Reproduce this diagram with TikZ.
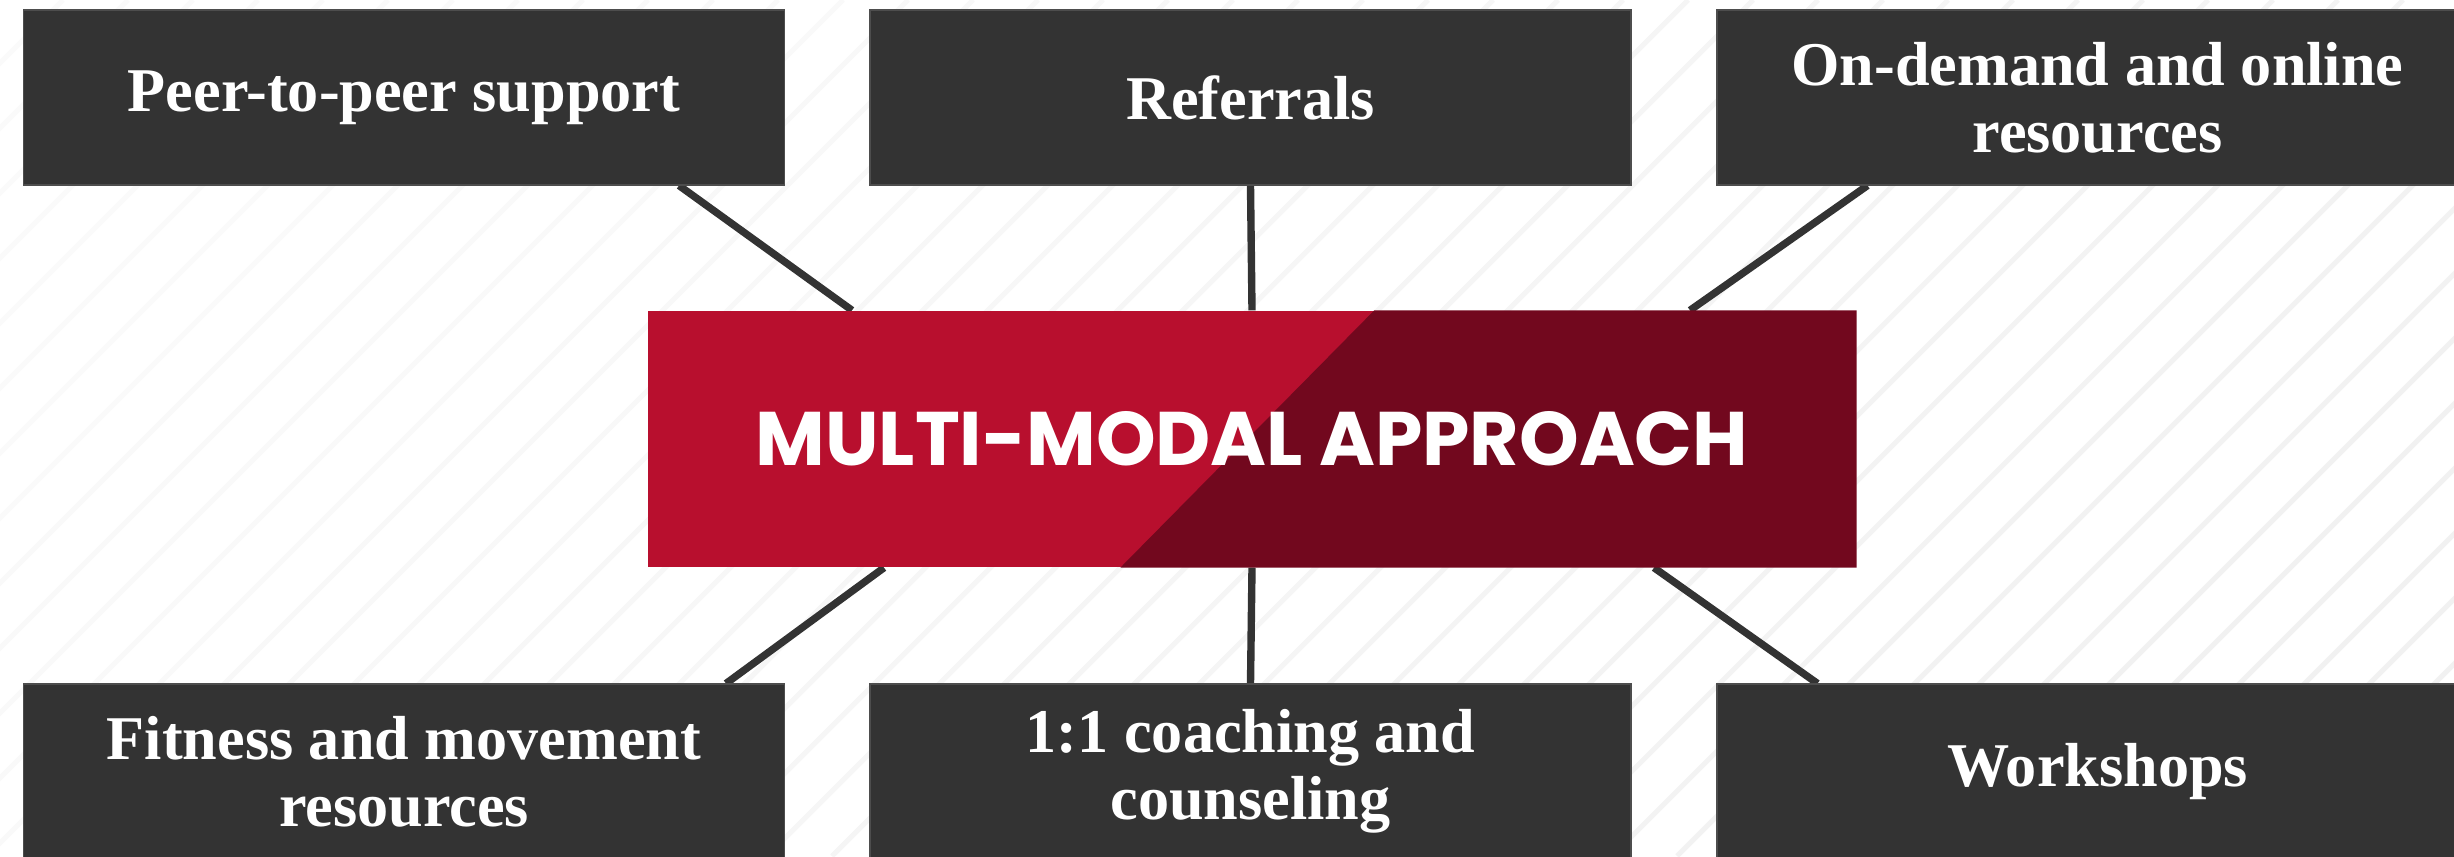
\documentclass[tikz,border=0pt]{standalone}
\usepackage{fontspec}
\setmainfont{Liberation Serif}
\newfontfamily\headfont{Poppins}
\usetikzlibrary{calc,backgrounds}
\definecolor{boxgray}{HTML}{333333}
\definecolor{boxedge}{HTML}{4D4D4D}
\definecolor{linegray}{HTML}{333333}
\definecolor{brightred}{HTML}{B80F2E}
\definecolor{darkred}{HTML}{72081E}
\definecolor{stripeR}{HTML}{F1F1F1}
\definecolor{stripeL}{HTML}{FAFAFA}
\tikzset{
  box/.style={fill=boxgray, draw=boxedge, line width=0.3pt, minimum width=76.1mm,
    minimum height=17.5mm, inner sep=0pt, text=white, align=center,
    font=\bfseries\fontsize{17.7pt}{19pt}\selectfont},
  centerbox/.style={fill=brightred, minimum width=120.8mm, minimum height=25.6mm, inner sep=0pt},
  centertext/.style={text=white, inner sep=0pt, font=\headfont\bfseries\fontsize{21.6pt}{26pt}\selectfont},
  conn/.style={draw=linegray, line width=2.1pt},
  stripe/.style={line width=1.4pt}
}
\begin{document}
\begin{tikzpicture}[x=0.1mm,y=-0.1mm]
\useasboundingbox (0,0) rectangle (2454,856);
\clip (0,0) rectangle (2454,856);
% boxes
\node[box] (tl) at (404,97.5) {Peer-to-peer support};
\node[box] (tm) at (1250.5,97.5) {Referrals};
\node[box] (tr) at (2097.5,97.5) {On-demand and online\\resources};
\node[box] (bl) at (404,771.5) {Fitness and movement\\resources};
\node[box] (bm) at (1250.5,771.5) {1:1 coaching and\\counseling};
\node[box] (br) at (2097.5,771.5) {Workshops};
% center
\node[centerbox] (c) at (1252,439) {};
\fill[darkred] ($(c.north west)+(727,0)$) -- (c.north east) -- (c.south east) -- ($(c.south west)+(473,0)$) -- cycle;
\node[centertext] (ct) at (c.center) {MULTI-MODAL APPROACH};
\begin{scope}[on background layer]
  \fill[white] (0,0) rectangle (2454,856);
  \foreach \k in {0,...,51}{
    \pgfmathsetmacro\cc{63+65*\k}
    \pgfmathtruncatemacro\p{max(0,min(100,(\cc-428)/24.54))}
    \draw[stripe, draw=stripeR!\p!stripeL] (\cc,0) -- (\cc-856,856);
  }
  \draw[conn] ([xshift=27.5mm]tl.south) -- ([xshift=-40mm]c.north);
  \draw[conn] (tm.south) -- (c.north);
  \draw[conn] ([xshift=-23mm]tr.south) -- ([xshift=43.8mm]c.north);
  \draw[conn] ([xshift=-36.8mm]c.south) -- ([xshift=32.2mm]bl.north);
  \draw[conn] (c.south) -- (bm.north);
  \draw[conn] ([xshift=40.2mm]c.south) -- ([xshift=-28mm]br.north);
\end{scope}
\end{tikzpicture}
\end{document}
